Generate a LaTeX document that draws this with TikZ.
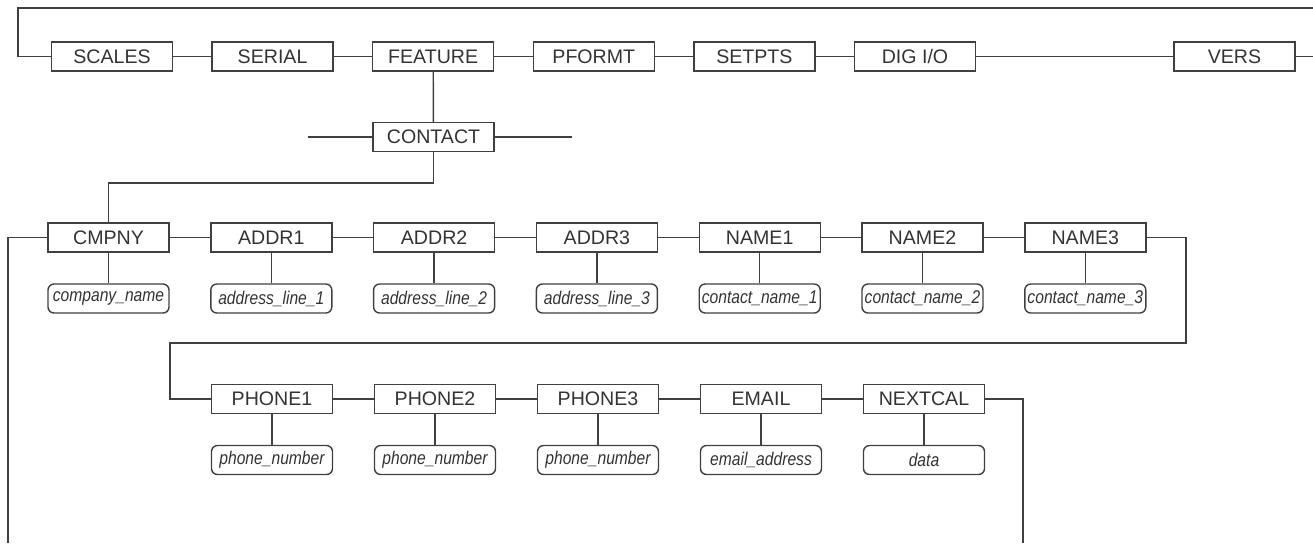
\documentclass[tikz,border=0pt]{standalone}
\usepackage{fontspec}
\setmainfont{Liberation Sans}
\newcommand{\valtext}[1]{\scalebox{0.85}[1]{#1}}
\begin{document}
\begin{tikzpicture}[x=0.5pt, y=-0.5pt,
    menubox/.style={draw=black!75, line width=0.7pt, minimum width=60.5pt, minimum height=14.5pt,
      inner sep=0pt, text=black!80, font=\fontsize{9.8}{10}\selectfont},
    valbox/.style={menubox, rounded corners=3pt, font=\fontsize{9.2}{10}\selectfont\itshape},
    link/.style={draw=black!75, line width=0.7pt}]
    % Page size
    \useasboundingbox (0,0) rectangle (1313,543);

    % Parameters
    \def\topy{56.5}   % Top menu row
    \def\midy{237.5}  % CONTACT items, first row
    \def\lowy{399}    % CONTACT items, second row
    \def\valdrop{61}  % Menu box to value box

    % Top menu row
    \foreach \name/\txt [count=\i from 0] in {scales/SCALES, serial/SERIAL, feature/FEATURE,
        pformt/PFORMT, setpts/SETPTS, digio/{DIG I/O}} {
            \node[menubox] (\name) at ({112+160.6*\i}, \topy) {\txt};
        }
    \node[menubox] (vers) at (1234.5, \topy) {VERS};
    \foreach \a/\b in {scales/serial, serial/feature, feature/pformt, pformt/setpts, setpts/digio, digio/vers} {
            \draw[link] (\a) -- (\b);
        }

    % Loop back over the top
    \coordinate (loopl) at (18, 8);
    \coordinate (loopr) at (1313, 8);
    \coordinate (versr) at (1313, \topy);
    \draw[link] (scales.west) -| (loopl) -- (loopr);
    \draw[link] (vers) -- (versr);

    % CONTACT under FEATURE
    \node[menubox] (contact) at (433.5, 137) {CONTACT};
    \coordinate (contl) at (308, 137);
    \coordinate (contr) at (572, 137);
    \draw[link] (feature) -- (contact);
    \draw[link] (contl) -- (contact);
    \draw[link] (contact) -- (contr);

    % First row of CONTACT items
    \foreach \name/\txt/\val [count=\i from 0] in {cmpny/CMPNY/company\_name, addr1/ADDR1/address\_line\_1,
        addr2/ADDR2/address\_line\_2, addr3/ADDR3/address\_line\_3, name1/NAME1/contact\_name\_1,
        name2/NAME2/contact\_name\_2, name3/NAME3/contact\_name\_3} {
            \node[menubox] (\name) at ({108.5+162.8*\i}, \midy) {\txt};
            \node[valbox] (\name-v) at ({108.5+162.8*\i}, \midy+\valdrop) {\valtext{\val}};
            \draw[link] (\name) -- (\name-v);
        }
    \foreach \a/\b in {cmpny/addr1, addr1/addr2, addr2/addr3, addr3/name1, name1/name2, name2/name3} {
            \draw[link] (\a) -- (\b);
        }
    \draw[link] (contact.south) -- ++(0, 30.75) -| (cmpny.north);
    \coordinate (cmpnyend) at (8, 543);
    \draw[link] (cmpny.west) -| (cmpnyend);

    % Second row of CONTACT items
    \foreach \name/\txt/\val [count=\i from 0] in {phone1/PHONE1/phone\_number, phone2/PHONE2/phone\_number,
        phone3/PHONE3/phone\_number, email/EMAIL/email\_address, nextcal/NEXTCAL/data} {
            \node[menubox] (\name) at ({272+163*\i}, \lowy) {\txt};
            \node[valbox] (\name-v) at ({272+163*\i}, \lowy+\valdrop) {\valtext{\val}};
            \draw[link] (\name) -- (\name-v);
        }
    \foreach \a/\b in {phone1/phone2, phone2/phone3, phone3/email, email/nextcal} {
            \draw[link] (\a) -- (\b);
        }

    % Wrap from NAME3 down to PHONE1
    \coordinate (wrapr) at (1186, 343);
    \coordinate (wrapl) at (170, 343);
    \draw[link] (name3.east) -| (wrapr) -- (wrapl) |- (phone1.west);
    \coordinate (nextend) at (1023, 543);
    \draw[link] (nextcal.east) -| (nextend);
\end{tikzpicture}
\end{document}
